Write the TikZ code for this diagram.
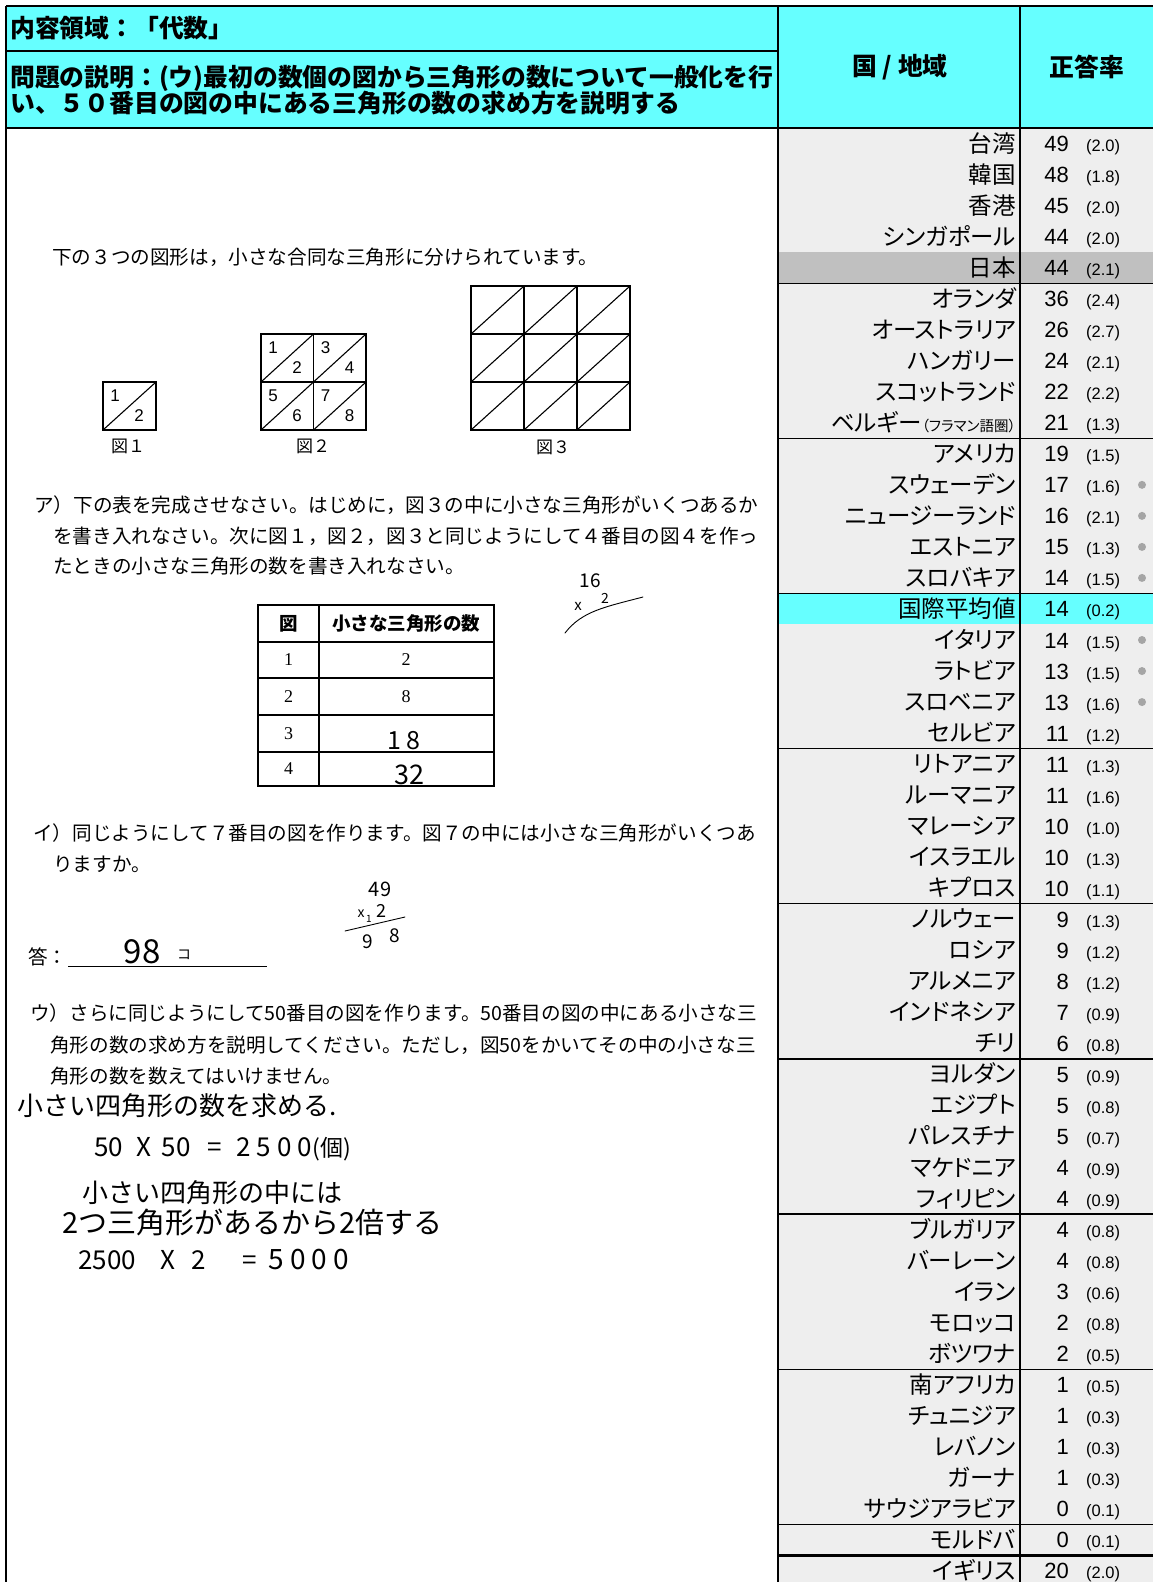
\documentclass[tikz,border=0pt]{standalone}
\usepackage{fontspec}
\setmainfont{Liberation Sans}
\newfontfamily\jp{Noto Sans CJK JP}
\newfontfamily\jpp{Noto Sans CJK JP}[RawFeature=+palt]
\newfontfamily\numserif{Liberation Serif}
\newcommand\myfs[1]{\fontsize{#1}{#1}\selectfont}
\definecolor{hdrcyan}{RGB}{102,255,255}
\definecolor{rowgray}{RGB}{238,238,238}
\definecolor{jpgray}{RGB}{192,192,192}
\definecolor{dotgray}{RGB}{165,165,165}
\tikzset{
 frame/.style={line width=1.4pt, black},
 grp/.style={line width=1.3pt, black},
 cname/.style={anchor=base east, inner sep=0pt, font=\jpp\myfs{23.5}},
 cval/.style={anchor=base east, inner sep=0pt, font=\myfs{22}},
 cse/.style={anchor=base west, inner sep=0pt, font=\myfs{16.5}},
 hdr/.style={inner sep=0pt, font=\jp\bfseries\myfs{24.8}},
 scan/.style={anchor=base west, inner sep=0pt, font=\jp\myfs{19.6}},
 fignum/.style={inner sep=0pt, font=\myfs{17}},
 figlab/.style={inner sep=0pt, font=\jp\myfs{17}},
 tnum/.style={inner sep=0pt, font=\numserif\myfs{18}},
 thead/.style={inner sep=0pt, font=\jp\bfseries\myfs{18.5}},
 figline/.style={line width=1.1pt},
 tabline/.style={line width=1.1pt},
 hand/.style={anchor=base west, inner sep=0pt},
 handc/.style={inner sep=0pt},
 hwline/.style={line width=0.9pt, line cap=round},
}
\newcommand\rowh{31.03}
\newcommand\trow[4]{%
  \pgfmathsetmacro\rowy{128+\rowh*(#1+0.5)}%
  \node[cname] (cn#1) at (1016,\rowy+8.5) {#2};%
  \node[cval] (cv#1) at (1069,\rowy+8) {#3};%
  \node[cse] (cs#1) at (1086,\rowy+8) {(#4)};%
}
\newcommand\tdot[1]{%
  \pgfmathsetmacro\rowy{128+\rowh*(#1+0.5)}%
  \fill[dotgray] (1142,\rowy) circle (4);%
}
\begin{document}
\begin{tikzpicture}[x=1pt,y=-1pt]
\useasboundingbox (0,0) rectangle (1153,1582);
\fill[white] (0,0) rectangle (1153,1582);
% ---------- header ----------
\fill[hdrcyan] (6,6) rectangle (1153,128);
% ---------- table backgrounds ----------
\fill[rowgray] (778,128) rectangle (1153,1582);
\fill[jpgray] (778,{128+\rowh*4}) rectangle (1153,{128+\rowh*5});
\fill[hdrcyan] (778,{128+\rowh*15}) rectangle (1153,{128+\rowh*16});
% ---------- frame lines ----------
\draw[frame] (6,6) -- (1153,6);
\draw[frame] (6,51) -- (778,51);
\draw[frame] (6,128) -- (1153,128);
\draw[frame] (6,6) -- (6,1582);
\draw[frame] (778,6) -- (778,1582);
\draw[frame] (1020,6) -- (1020,1582);
\foreach \k in {5,10,15,20,25,30,35,40,45}
  \draw[grp] (778,{128+\rowh*\k}) -- (1153,{128+\rowh*\k});
\draw[line width=3.6pt] (778,{128+\rowh*46}) -- (1153,{128+\rowh*46});
% ---------- header texts ----------
\node[hdr, anchor=base west] (hA) at (10,37) {内容領域：「代数」};
\node[hdr, anchor=base west] (hB) at (10,86) {問題の説明：(ウ)最初の数個の図から三角形の数について一般化を行};
\node[hdr, anchor=base west] (hC) at (10,112) {い、５０番目の図の中にある三角形の数の求め方を説明する};
\node[hdr] (hD) at (900,67) {国 / 地域};
\node[hdr] (hE) at (1087,67) {正答率};
% ---------- table rows ----------
\trow{0}{台湾}{49}{2.0}
\trow{1}{韓国}{48}{1.8}
\trow{2}{香港}{45}{2.0}
\trow{3}{シンガポール}{44}{2.0}
\trow{4}{日本}{44}{2.1}
\trow{5}{オランダ}{36}{2.4}
\trow{6}{オーストラリア}{26}{2.7}
\trow{7}{ハンガリー}{24}{2.1}
\trow{8}{スコットランド}{22}{2.2}
\trow{9}{ベルギー{\myfs{14.5}（フラマン語圏）}}{21}{1.3}
\trow{10}{アメリカ}{19}{1.5}
\trow{11}{スウェーデン}{17}{1.6}
\trow{12}{ニュージーランド}{16}{2.1}
\trow{13}{エストニア}{15}{1.3}
\trow{14}{スロバキア}{14}{1.5}
\trow{15}{国際平均値}{14}{0.2}
\trow{16}{イタリア}{14}{1.5}
\trow{17}{ラトビア}{13}{1.5}
\trow{18}{スロベニア}{13}{1.6}
\trow{19}{セルビア}{11}{1.2}
\trow{20}{リトアニア}{11}{1.3}
\trow{21}{ルーマニア}{11}{1.6}
\trow{22}{マレーシア}{10}{1.0}
\trow{23}{イスラエル}{10}{1.3}
\trow{24}{キプロス}{10}{1.1}
\trow{25}{ノルウェー}{9}{1.3}
\trow{26}{ロシア}{9}{1.2}
\trow{27}{アルメニア}{8}{1.2}
\trow{28}{インドネシア}{7}{0.9}
\trow{29}{チリ}{6}{0.8}
\trow{30}{ヨルダン}{5}{0.9}
\trow{31}{エジプト}{5}{0.8}
\trow{32}{パレスチナ}{5}{0.7}
\trow{33}{マケドニア}{4}{0.9}
\trow{34}{フィリピン}{4}{0.9}
\trow{35}{ブルガリア}{4}{0.8}
\trow{36}{バーレーン}{4}{0.8}
\trow{37}{イラン}{3}{0.6}
\trow{38}{モロッコ}{2}{0.8}
\trow{39}{ボツワナ}{2}{0.5}
\trow{40}{南アフリカ}{1}{0.5}
\trow{41}{チュニジア}{1}{0.3}
\trow{42}{レバノン}{1}{0.3}
\trow{43}{ガーナ}{1}{0.3}
\trow{44}{サウジアラビア}{0}{0.1}
\trow{45}{モルドバ}{0}{0.1}
\trow{46}{イギリス}{20}{2.0}
\foreach \k in {11,12,13,14,16,17,18} {\tdot{\k}}
% ---------- scanned question ----------
\node[scan] (t0) at (52,264) {下の３つの図形は，小さな合同な三角形に分けられています。};
% Fig 1
\draw[figline] (103,382) rectangle (156,430);
\draw[figline] (103,430) -- (156,382);
\node[fignum] (f1a) at (115,396) {1};
\node[fignum] (f1b) at (139,416) {2};
\node[figlab] (f1l) at (128,446) {図１};
% Fig 2
\foreach \i in {0,1} \foreach \j in {0,1} {
  \draw[figline] ({261+52.5*\i},{334+48*\j}) rectangle +(52.5,48);
  \draw[figline] ({261+52.5*\i},{334+48*(\j+1)}) -- +(52.5,-48);
}
\foreach \i/\j/\a/\b in {0/0/1/2, 1/0/3/4, 0/1/5/6, 1/1/7/8} {
  \node[fignum] (f2n\a) at ({261+52.5*\i+12},{334+48*\j+14}) {\a};
  \node[fignum] (f2n\b) at ({261+52.5*\i+36},{334+48*\j+34}) {\b};
}
\node[figlab] (f2l) at (313,446) {図２};
% Fig 3
\foreach \i in {0,1,2} \foreach \j in {0,1,2} {
  \draw[figline] ({471+53*\i},{286+48*\j}) rectangle +(53,48);
  \draw[figline] ({471+53*\i},{286+48*(\j+1)}) -- +(53,-48);
}
\node[figlab] (f3l) at (553,447) {図３};
% part a
\node[scan] (ta1) at (34,512.5) {ア）下の表を完成させなさい。はじめに，図３の中に小さな三角形がいくつあるか};
\node[scan] (ta2) at (53,543) {を書き入れなさい。次に図１，図２，図３と同じようにして４番目の図４を作っ};
\node[scan] (ta3) at (53,573.5) {たときの小さな三角形の数を書き入れなさい。};
% table
\draw[tabline] (258,605) rectangle (494,786);
\draw[tabline] (319,605) -- (319,786);
\foreach \y in {642,678,715,752} \draw[tabline] (258,\y) -- (494,\y);
\node[thead] (tbh1) at (288.5,623.5) {図};
\node[thead] (tbh2) at (406,623.5) {小さな三角形の数};
\node[tnum] (tb1) at (288.5,660) {1};
\node[tnum] (tb2) at (288.5,696.5) {2};
\node[tnum] (tb3) at (288.5,733.5) {3};
\node[tnum] (tb4) at (288.5,769) {4};
\node[tnum] (tv1) at (406,660) {2};
\node[tnum] (tv2) at (406,696.5) {8};
\node[handc, font=\jp\myfs{25}] (tv3) at (404,741) {1\hspace{5pt}8};
\node[handc, font=\jp\myfs{27}] (tv4) at (409,775) {32};
% scribble 16 x 2
\node[handc, font=\jp\myfs{19}] (s16) at (590,581) {16};
\node[handc, font=\jp\myfs{15}] (sx) at (578,606) {x};
\node[handc, font=\jp\myfs{14}] (s2) at (605,598) {2};
\draw[hwline] (565,633) .. controls (582,611) and (605,607) .. (643,597);
% part i
\node[scan] (tb1l) at (33,840) {イ）同じようにして７番目の図を作ります。図７の中には小さな三角形がいくつあ};
\node[scan] (tb2l) at (53,871) {りますか。};
\node[handc, font=\jp\myfs{20}] (c49) at (380,889) {49};
\node[handc, font=\jp\myfs{14}] (cx) at (361,914) {x};
\node[handc, font=\jp\myfs{10}] (c1) at (369,919) {1};
\node[handc, font=\jp\myfs{18}] (c2) at (381,911) {2};
\draw[hwline] (345,931) -- (405,917);
\node[handc, font=\jp\myfs{19}] (c9) at (368,942) {9};
\node[handc, font=\jp\myfs{19}] (c8) at (395,936) {8};
\node[scan] (ans) at (28,964) {答：};
\draw[line width=0.9pt] (68,966) -- (267,966);
\node[handc, font=\jp\myfs{33}] (a98) at (142,952) {98};
\node[handc, font=\jp\myfs{14}] (ako) at (184,955) {コ};
% part u
\node[scan] (tc1) at (30,1020.5) {ウ）さらに同じようにして50番目の図を作ります。50番目の図の中にある小さな三};
\node[scan] (tc2) at (50,1052.5) {角形の数の求め方を説明してください。ただし，図50をかいてその中の小さな三};
\node[scan] (tc3) at (50,1083.5) {角形の数を数えてはいけません。};
% handwritten answer
\node[hand, font=\jp\myfs{26}] (w1) at (17,1115) {小さい四角形の数を求める.};
\node[hand, font=\jp\myfs{26}] (w2) at (94,1156) {50\hspace{13pt}X\hspace{11pt}50\hspace{17pt}=\hspace{14pt}2\hspace{6pt}5\hspace{6pt}0\hspace{6pt}0\hspace{1pt}{\myfs{23}(個)}};
\node[hand, font=\jp\myfs{26}] (w3) at (82,1202) {小さい四角形の中には};
\node[hand, font=\jp\myfs{29}] (w4) at (62,1233) {2つ三角形があるから2倍する};
\node[hand, font=\jp\myfs{26}] (w5) at (78,1269) {2500\hspace{25pt}X\hspace{16pt}2\hspace{36pt}=\hspace{12pt}{\myfs{28}5\hspace{6pt}0\hspace{6pt}0\hspace{6pt}0}};
\end{tikzpicture}
\end{document}
